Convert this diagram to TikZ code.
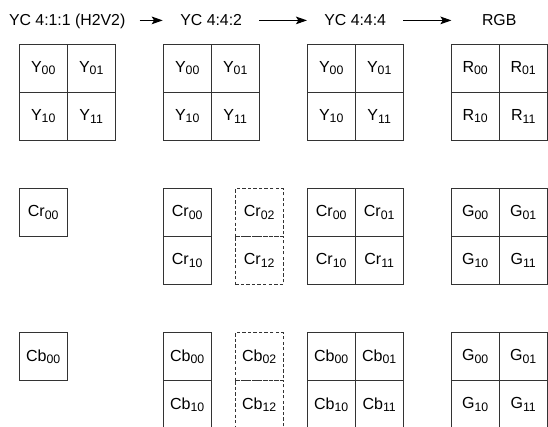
\documentclass[tikz,border=0pt]{standalone}
\usepackage{fontspec}
\setmainfont{Liberation Sans}
\usetikzlibrary{arrows.meta}
\newcommand\idx[1]{\raisebox{-1.3pt}{\fontsize{7.3}{8}\selectfont #1}}

\begin{document}
\begin{tikzpicture}[
  cell/.style={draw=black!80,line width=0.8pt,minimum size=1cm,inner sep=0pt,font=\fontsize{9.5}{11}\selectfont},
  dcell/.style={cell,dash pattern=on 2pt off 1.3pt},
  head/.style={inner sep=0pt,text height=0.23cm,text depth=0pt,font=\fontsize{9.4}{11}\selectfont},
  conv/.style={line width=0.6pt,-{Stealth[length=2.3mm,width=1.6mm,inset=0.5mm]}}]
\useasboundingbox (0,0) rectangle (11.417,-8.896);
% headers and arrows
\node[head] (h411) at (1.4,-0.425) {YC 4:1:1 (H2V2)};
\node[head] (h442) at (4.4,-0.425) {YC 4:4:2};
\node[head] (h444) at (7.4,-0.425) {YC 4:4:4};
\node[head] (hrgb) at (10.4,-0.425) {RGB};
\draw[conv,shorten <=0.29cm,shorten >=0.36cm] (h411) -- (h442);
\draw[conv,shorten <=0.355cm,shorten >=0.355cm] (h442) -- (h444);
\draw[conv,shorten <=0.355cm,shorten >=0.63cm] (h444) -- (hrgb);
% Y / R
\node[cell] (y1-00) at (0.9,-1.425) {Y\idx{00}};
\node[cell] (y1-01) at (1.9,-1.425) {Y\idx{01}};
\node[cell] (y1-10) at (0.9,-2.425) {Y\idx{10}};
\node[cell] (y1-11) at (1.9,-2.425) {Y\idx{11}};
\node[cell] (y2-00) at (3.9,-1.425) {Y\idx{00}};
\node[cell] (y2-01) at (4.9,-1.425) {Y\idx{01}};
\node[cell] (y2-10) at (3.9,-2.425) {Y\idx{10}};
\node[cell] (y2-11) at (4.9,-2.425) {Y\idx{11}};
\node[cell] (y3-00) at (6.9,-1.425) {Y\idx{00}};
\node[cell] (y3-01) at (7.9,-1.425) {Y\idx{01}};
\node[cell] (y3-10) at (6.9,-2.425) {Y\idx{10}};
\node[cell] (y3-11) at (7.9,-2.425) {Y\idx{11}};
\node[cell] (r-00) at (9.9,-1.425) {R\idx{00}};
\node[cell] (r-01) at (10.9,-1.425) {R\idx{01}};
\node[cell] (r-10) at (9.9,-2.425) {R\idx{10}};
\node[cell] (r-11) at (10.9,-2.425) {R\idx{11}};
% Cr / G
\node[cell] (cr1-00) at (0.9,-4.425) {Cr\idx{00}};
\node[cell] (cr2-00) at (3.9,-4.425) {Cr\idx{00}};
\node[cell] (cr2-10) at (3.9,-5.425) {Cr\idx{10}};
\node[dcell] (cr2-02) at (5.4,-4.425) {Cr\idx{02}};
\node[dcell] (cr2-12) at (5.4,-5.425) {Cr\idx{12}};
\node[cell] (cr3-00) at (6.9,-4.425) {Cr\idx{00}};
\node[cell] (cr3-01) at (7.9,-4.425) {Cr\idx{01}};
\node[cell] (cr3-10) at (6.9,-5.425) {Cr\idx{10}};
\node[cell] (cr3-11) at (7.9,-5.425) {Cr\idx{11}};
\node[cell] (g1-00) at (9.9,-4.425) {G\idx{00}};
\node[cell] (g1-01) at (10.9,-4.425) {G\idx{01}};
\node[cell] (g1-10) at (9.9,-5.425) {G\idx{10}};
\node[cell] (g1-11) at (10.9,-5.425) {G\idx{11}};
% Cb / G
\node[cell] (cb1-00) at (0.9,-7.425) {Cb\idx{00}};
\node[cell] (cb2-00) at (3.9,-7.425) {Cb\idx{00}};
\node[cell] (cb2-10) at (3.9,-8.425) {Cb\idx{10}};
\node[dcell] (cb2-02) at (5.4,-7.425) {Cb\idx{02}};
\node[dcell] (cb2-12) at (5.4,-8.425) {Cb\idx{12}};
\node[cell] (cb3-00) at (6.9,-7.425) {Cb\idx{00}};
\node[cell] (cb3-01) at (7.9,-7.425) {Cb\idx{01}};
\node[cell] (cb3-10) at (6.9,-8.425) {Cb\idx{10}};
\node[cell] (cb3-11) at (7.9,-8.425) {Cb\idx{11}};
\node[cell] (g2-00) at (9.9,-7.425) {G\idx{00}};
\node[cell] (g2-01) at (10.9,-7.425) {G\idx{01}};
\node[cell] (g2-10) at (9.9,-8.425) {G\idx{10}};
\node[cell] (g2-11) at (10.9,-8.425) {G\idx{11}};
\end{tikzpicture}
\end{document}
